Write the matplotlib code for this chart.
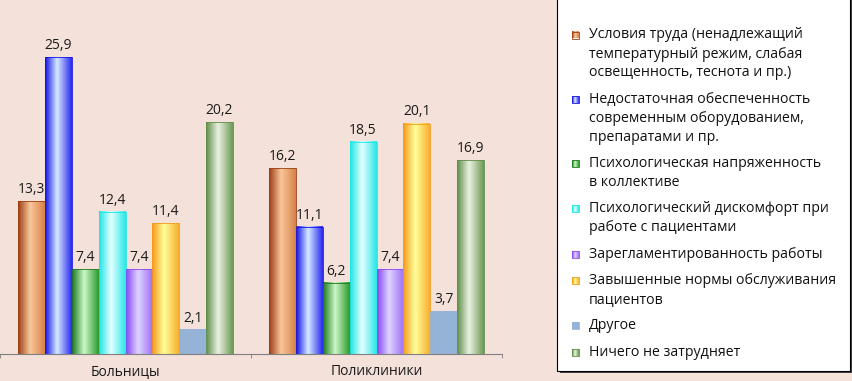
import numpy as np
import matplotlib
matplotlib.use('Agg')
import matplotlib.pyplot as plt
from matplotlib.colors import LinearSegmentedColormap
from matplotlib.patches import Rectangle

plt.rcParams['font.family'] = ['Open Sans', 'DejaVu Sans']

groups = ['Больницы', 'Поликлиники']
series = [
    'Условия труда (ненадлежащий\nтемпературный режим, слабая\nосвещенность, теснота и пр.)',
    'Недостаточная обеспеченность\nсовременным оборудованием,\nпрепаратами и пр.',
    'Психологическая напряженность\nв коллективе',
    'Психологический дискомфорт при\nработе с пациентами',
    'Зарегламентированность работы',
    'Завышенные нормы обслуживания\nпациентов',
    'Другое',
    'Ничего не затрудняет',
]
hospitals = [13.3, 25.9, 7.4, 12.4, 7.4, 11.4, 2.1, 20.2]
clinics = [16.2, 11.1, 6.2, 18.5, 7.4, 20.1, 3.7, 16.9]

# (left edge, highlight, right edge) for the cylinder look
shades = [
    ('#9C3F14', '#F9C79B', '#D7834A'),
    ('#1414E6', '#D5EBFF', '#2A2AF0'),
    ('#1E7A1E', '#CCF7C8', '#2E9A2E'),
    ('#1EE6E6', '#E6FFFF', '#28E8E8'),
    ('#8A48F0', '#DCD4FF', '#A070F4'),
    ('#F49A1A', '#FFFF99', '#F8B030'),
    ('#95B3D7', '#95B3D7', '#95B3D7'),
    ('#5E8E48', '#EAF2E2', '#6E9A56'),
]
bg = '#F3E1DA'

W, H = 853, 381
fig = plt.figure(figsize=(W / 100, H / 100), dpi=100, facecolor=bg)
ax = fig.add_axes([0, (H - 354) / H, 502 / W, 344 / H], facecolor=bg)

data = np.array([hospitals, clinics])
x = np.arange(len(groups))
w = 0.107
ramp = np.linspace(0, 1, 64)[None, :]
for i, (name, sh) in enumerate(zip(series, shades)):
    cmap = LinearSegmentedColormap.from_list(f's{i}', [(0, sh[0]), (0.45, sh[1]), (1, sh[2])])
    bars = ax.bar(x + (i - 3.5) * w, data[:, i], w, color='none', edgecolor=sh[0],
                  linewidth=0.6, zorder=3)
    for b, v in zip(bars, data[:, i]):
        x0 = b.get_x()
        ax.imshow(ramp, cmap=cmap, extent=[x0, x0 + b.get_width(), 0, v],
                  aspect='auto', zorder=2, interpolation='bilinear')
        ax.annotate(f'{v:.1f}'.replace('.', ','), (x0 + b.get_width() / 2, v),
                    xytext=(0, 3), textcoords='offset points', ha='center', va='bottom',
                    fontsize=10, color='#1a1a1a')

ax.set_xlim(-0.5, 1.5)
ax.set_ylim(0, 30)
ax.set_xticks(x)
ax.set_xticklabels(groups, fontsize=10, color='#1a1a1a')
ax.set_xticks([-0.5, 0.5, 1.5], minor=True)
ax.tick_params(axis='x', which='major', length=0, pad=7)
ax.tick_params(axis='x', which='minor', length=3, color='#808080')
ax.set_yticks([])
for s in ['top', 'right', 'left']:
    ax.spines[s].set_visible(False)
ax.spines['bottom'].set_color('#808080')

# legend box drawn in pixel coordinates
lg = fig.add_axes([0, 0, 1, 1], facecolor='none')
lg.axis('off')
lg.add_patch(Rectangle((560, -5), 293, 378, facecolor='#404040', edgecolor='none', zorder=1))
lg.add_patch(Rectangle((557, -5), 293, 376, facecolor='white', edgecolor='black',
                       linewidth=0.8, zorder=2))
y = 35
for name, sh in zip(series, shades):
    cmap = LinearSegmentedColormap.from_list('m', [(0, sh[0]), (0.45, sh[1]), (1, sh[2])])
    lg.imshow(ramp, cmap=cmap, extent=[572, 579, y + 3.5, y - 3.5], aspect='auto', zorder=3)
    lg.add_patch(Rectangle((572, y - 3.5), 7, 7, facecolor='none', edgecolor=sh[0],
                           linewidth=0.6, zorder=4))
    for line in name.split('\n'):
        lg.text(589, y, line, fontsize=10.2, va='center', ha='left', color='#111111', zorder=4)
        y += 19
    y += 7.3
lg.set_xlim(0, W)
lg.set_ylim(H, 0)

fig.savefig('out.png', dpi=100, facecolor=bg)
